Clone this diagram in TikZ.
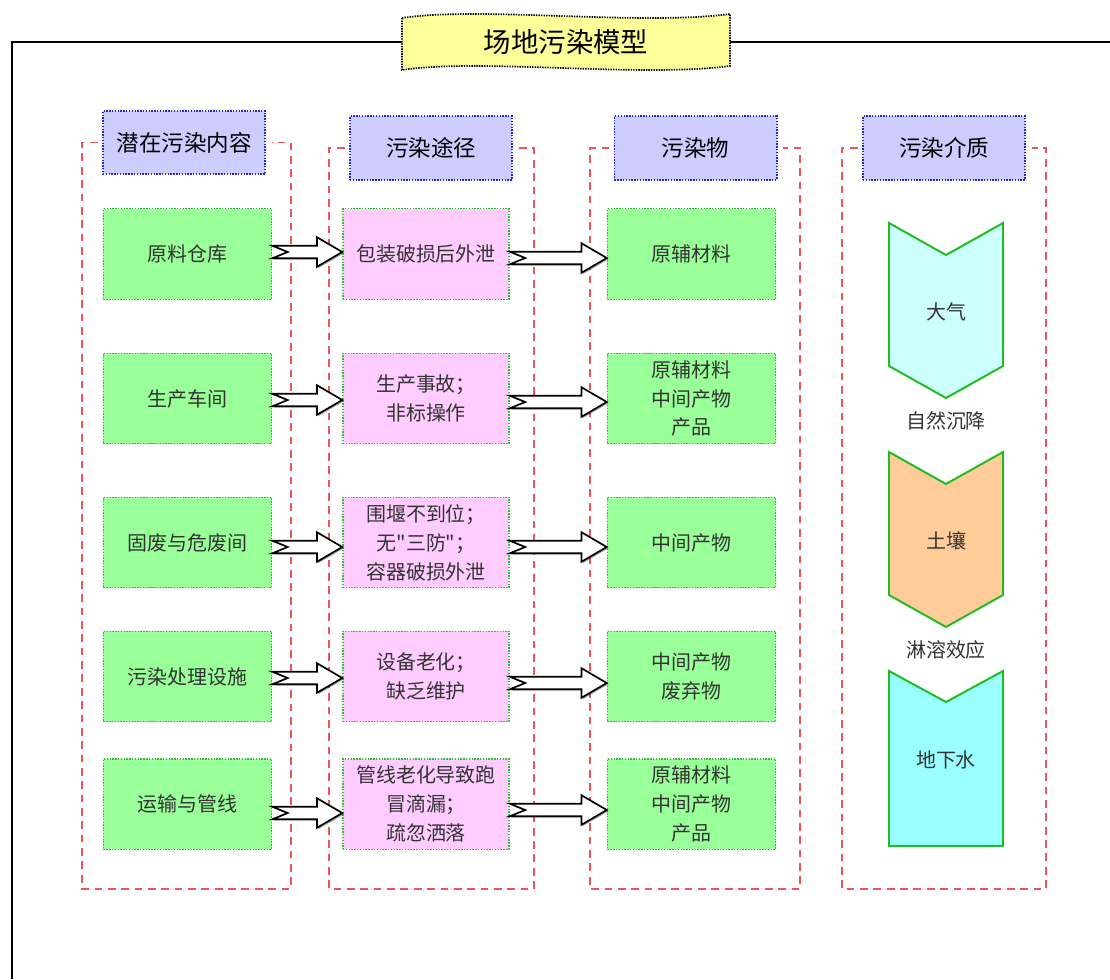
\documentclass[tikz,border=0pt]{standalone}
\usepackage{fontspec}
\newfontfamily\cjk{Noto Sans CJK SC}
\usetikzlibrary{calc,shadows}
\definecolor{hdrfill}{RGB}{204,204,255}
\definecolor{hdrline}{RGB}{40,40,200}
\definecolor{srcfill}{RGB}{153,255,153}
\definecolor{wayfill}{RGB}{255,204,255}
\definecolor{dotgreen}{RGB}{50,190,50}
\definecolor{colred}{RGB}{240,85,85}
\definecolor{titlefill}{RGB}{255,255,153}
\definecolor{airfill}{RGB}{204,255,255}
\definecolor{soilfill}{RGB}{255,204,153}
\definecolor{waterfill}{RGB}{153,255,255}
\definecolor{chevline}{RGB}{30,190,30}
\tikzset{
  hdr/.style={draw=hdrline,fill=hdrfill,line width=1.4pt,dash pattern=on 1pt off 1pt,
    minimum width=4.05cm,minimum height=1.58cm,inner sep=0pt,font=\cjk\fontsize{16}{19}\selectfont},
  srcbox/.style={draw=dotgreen,fill=srcfill,line width=1pt,dash pattern=on 1pt off 1pt,
    minimum width=4.2cm,minimum height=2.26cm,inner sep=0pt,align=center,text=black!80,
    font=\cjk\fontsize{14.2}{20.6}\selectfont},
  waybox/.style={srcbox,fill=wayfill,minimum width=4.15cm},
  colframe/.style={draw=colred,line width=1.4pt,dash pattern=on 5.5pt off 4pt},
  blockarr/.style={draw=black,fill=white,line width=1.2pt,line join=miter,
    drop shadow={shadow xshift=1pt,shadow yshift=-1pt,fill=black,opacity=.35}},
  chev/.style={draw=chevline,line width=1.4pt,line join=miter},
  medtext/.style={font=\cjk\fontsize{14.2}{17}\selectfont,text=black!80},
}
% notched block arrow: from node, to node, y (px)
\newcommand\notcharrow[3]{%
  \path[blockarr] let \p1=(#1.east |- 0,#3), \p2=(#2.west |- 0,#3) in
    (\x1,\y1+4.5pt) -- (\x2-18pt,\y1+4.5pt) -- (\x2-18pt,\y1+10.5pt) -- (\x2,\y1)
    -- (\x2-18pt,\y1-10.5pt) -- (\x2-18pt,\y1-4.5pt) -- (\x1,\y1-4.5pt) -- (\x1+11pt,\y1) -- cycle;}
% chevron: x centre, top, bottom tip, fill
\newcommand\chevshape[4]{%
  \draw[chev,fill=#4] (#1-57,#2) -- (#1,#2+32) -- (#1+57,#2) -- (#1+57,#3-32) -- (#1,#3) -- (#1-57,#3-32) -- cycle;}
\begin{document}
\begin{tikzpicture}[x=0.025cm,y=-0.025cm]
  \useasboundingbox (0,0) rectangle (1110,979);
  %
  \draw[line width=2.1pt] (12,979) |- (1110,42); % frame
  \draw[fill=titlefill,line width=1.2pt,dash pattern=on 1pt off 0.8pt]
    (402,18) .. controls (480,6) and (640,26) .. (730,14) -- (730,66)
    .. controls (640,78) and (480,58) .. (402,70) -- cycle;
  \node (title) at (566,42) {\cjk\fontsize{19.5}{22}\selectfont 场地污染模型};
  %
  \node[hdr] (h1) at (184,142.5) {潜在污染内容};
  \node[hdr] (h2) at (431,148) {污染途径};
  \node[hdr] (h3) at (695.5,148) {污染物};
  \node[hdr] (h4) at (944,148) {污染介质};
  %
  \draw[colframe] ([xshift=-3pt]h1.west) -| (82,889) -| (291,142.5) -- ([xshift=4pt]h1.east);
  \draw[colframe] ([xshift=-3pt]h2.west) -| (329,889) -| (534,148) -- ([xshift=4pt]h2.east);
  \draw[colframe] ([xshift=-3pt]h3.west) -| (590,889) -| (800,148) -- ([xshift=4pt]h3.east);
  \draw[colframe] ([xshift=-3pt]h4.west) -| (842,889) -| (1046,148) -- ([xshift=4pt]h4.east);
  %
  \node[srcbox] (src1) at (187.5,254) {原料仓库};
  \node[srcbox] (src2) at (187.5,398.5) {生产车间};
  \node[srcbox] (src3) at (187.5,542.5) {固废与危废间};
  \node[srcbox] (src4) at (187.5,676.5) {污染处理设施};
  \node[srcbox] (src5) at (187.5,804) {运输与管线};
  %
  \node[waybox] (way1) at (426,254) {包装破损后外泄};
  \node[waybox] (way2) at (426,398.5) {生产事故；\\非标操作};
  \node[waybox] (way3) at (426,542.5) {围堰不到位；\\无"三防"；\\容器破损外泄};
  \node[waybox] (way4) at (426,676.5) {设备老化；\\缺乏维护};
  \node[waybox] (way5) at (426,804) {管线老化导致跑\\冒滴漏；\\疏忽洒落};
  %
  \node[srcbox] (out1) at (691.5,254) {原辅材料};
  \node[srcbox] (out2) at (691.5,398.5) {原辅材料\\中间产物\\产品};
  \node[srcbox] (out3) at (691.5,542.5) {中间产物};
  \node[srcbox] (out4) at (691.5,676.5) {中间产物\\废弃物};
  \node[srcbox] (out5) at (691.5,804) {原辅材料\\中间产物\\产品};
  %
  \notcharrow{src1}{way1}{252}
  \notcharrow{src2}{way2}{400}
  \notcharrow{src3}{way3}{547}
  \notcharrow{src4}{way4}{678}
  \notcharrow{src5}{way5}{813}
  \notcharrow{way1}{out1}{258}
  \notcharrow{way2}{out2}{402}
  \notcharrow{way3}{out3}{547}
  \notcharrow{way4}{out4}{683}
  \notcharrow{way5}{out5}{810}
  %
  \chevshape{946}{223}{398}{airfill}
  \chevshape{946}{452}{627}{soilfill}
  \draw[chev,fill=waterfill] (889,671) -- (946,702) -- (1003,671) -- (1003,846) -- (889,846) -- cycle;
  \node[medtext] (air) at (946,312) {大气};
  \node[medtext] (settle) at (946,421) {自然沉降};
  \node[medtext] (soil) at (946,541) {土壤};
  \node[medtext] (leach) at (946,650) {淋溶效应};
  \node[medtext] (water) at (946,760) {地下水};
\end{tikzpicture}
\end{document}
